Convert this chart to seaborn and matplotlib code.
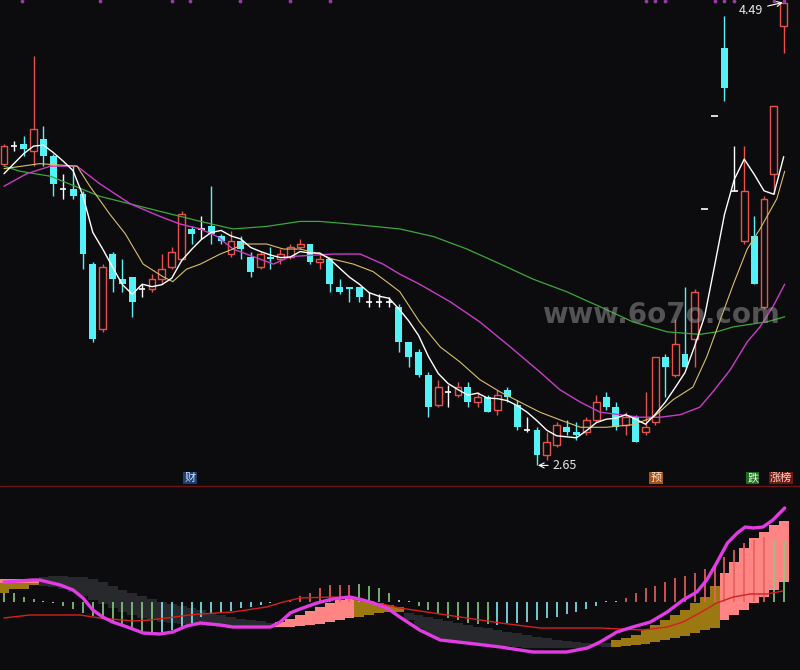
import numpy as np
import pandas as pd
import matplotlib
matplotlib.use("Agg")
import matplotlib.pyplot as plt
from matplotlib.lines import Line2D
import seaborn as sns

BG = '#0c0c0e'
UP = '#e8524c'
DOWN = '#54f2f6'

# K线 (open / close / high / low)
opens = [3.85, 3.92, 3.93, 3.90, 3.95, 3.88, 3.75, 3.75, 3.73, 3.45,
         3.19, 3.49, 3.39, 3.40, 3.35, 3.35, 3.39, 3.44, 3.47, 3.59,
         3.59, 3.60, 3.56, 3.49, 3.54, 3.48, 3.44, 3.48, 3.47, 3.48,
         3.52, 3.53, 3.46, 3.47, 3.36, 3.36, 3.36, 3.30, 3.30, 3.30,
         3.28, 3.14, 3.10, 3.01, 2.89, 2.94, 2.93, 2.96, 2.90, 2.92,
         2.87, 2.95, 2.89, 2.79, 2.79, 2.69, 2.73, 2.80, 2.78, 2.78,
         2.83, 2.92, 2.88, 2.81, 2.84, 2.78, 2.82, 3.08, 3.01, 3.09,
         3.15, 3.67, 4.04, 4.31, 3.74, 3.54, 3.56, 3.28, 3.81, 4.40]
closes = [3.92, 3.92, 3.91, 3.99, 3.88, 3.77, 3.75, 3.72, 3.49, 3.15,
          3.44, 3.39, 3.37, 3.30, 3.35, 3.39, 3.43, 3.50, 3.65, 3.57,
          3.59, 3.57, 3.54, 3.54, 3.51, 3.42, 3.49, 3.47, 3.49, 3.52,
          3.53, 3.46, 3.47, 3.37, 3.34, 3.35, 3.32, 3.30, 3.30, 3.30,
          3.14, 3.08, 3.01, 2.88, 2.96, 2.94, 2.96, 2.90, 2.92, 2.86,
          2.93, 2.92, 2.80, 2.79, 2.69, 2.74, 2.81, 2.78, 2.77, 2.83,
          2.90, 2.88, 2.80, 2.84, 2.74, 2.80, 3.08, 3.04, 3.13, 3.04,
          3.34, 3.67, 4.04, 4.15, 3.74, 3.74, 3.37, 3.71, 4.08, 4.49]
highs = [3.93, 3.94, 3.96, 4.28, 4.00, 3.89, 3.81, 3.84, 3.74, 3.46,
         3.45, 3.50, 3.47, 3.40, 3.37, 3.41, 3.49, 3.52, 3.66, 3.60,
         3.64, 3.76, 3.57, 3.58, 3.56, 3.50, 3.50, 3.52, 3.51, 3.53,
         3.55, 3.53, 3.49, 3.47, 3.39, 3.36, 3.36, 3.34, 3.33, 3.32,
         3.29, 3.14, 3.11, 3.02, 2.99, 2.97, 2.98, 2.98, 2.94, 2.93,
         2.95, 2.96, 2.91, 2.84, 2.80, 2.78, 2.82, 2.83, 2.82, 2.84,
         2.93, 2.94, 2.90, 2.86, 2.85, 2.94, 3.08, 3.09, 3.23, 3.36,
         3.35, 3.67, 4.04, 4.44, 3.92, 3.92, 3.64, 3.72, 4.08, 4.49]
lows = [3.84, 3.90, 3.88, 3.84, 3.84, 3.72, 3.71, 3.71, 3.43, 3.14,
        3.18, 3.34, 3.34, 3.24, 3.32, 3.34, 3.37, 3.43, 3.47, 3.53,
        3.55, 3.53, 3.53, 3.48, 3.47, 3.40, 3.43, 3.43, 3.45, 3.47,
        3.51, 3.45, 3.43, 3.34, 3.33, 3.30, 3.30, 3.28, 3.28, 3.28,
        3.10, 3.04, 3.00, 2.84, 2.88, 2.88, 2.92, 2.88, 2.88, 2.86,
        2.85, 2.90, 2.79, 2.78, 2.65, 2.67, 2.72, 2.77, 2.75, 2.77,
        2.82, 2.87, 2.79, 2.77, 2.74, 2.77, 2.81, 2.92, 3.00, 3.04,
        3.04, 3.67, 4.04, 4.10, 3.74, 3.53, 3.37, 3.27, 3.73, 4.29]

# MA5 warm-up (first 4 bars); rest is rolling mean
ma5_head = [3.81, 3.85, 3.89, 3.92]

ma10_x = [0, 3.6, 7.4, 8.7, 10.7, 12.3, 14.1, 16.1, 17.1, 18.5, 19.9, 21.9, 23.2, 24.2,
          26.6, 28.3, 30.0, 32.0, 33.3, 35.4, 37.4, 39.1, 40.1, 42.1, 44.2, 46.2, 48.2,
          50.3, 52.3, 54.3, 56.3, 58.4, 61.0, 63.7, 65.8, 67.8, 69.8, 71.2, 72.5, 73.9,
          75.3, 76.6, 78.3, 79.1]
ma10_y = [3.83, 3.85, 3.84, 3.76, 3.65, 3.57, 3.45, 3.40, 3.38, 3.43, 3.45, 3.49, 3.51, 3.53,
          3.53, 3.51, 3.51, 3.49, 3.47, 3.45, 3.42, 3.37, 3.34, 3.22, 3.12, 3.06, 2.99,
          2.94, 2.90, 2.86, 2.83, 2.80, 2.80, 2.81, 2.84, 2.91, 2.96, 3.08, 3.22, 3.37,
          3.51, 3.59, 3.71, 3.82]
ma20_x = [0, 2.3, 4.7, 7.4, 9.7, 12.8, 15.8, 17.8, 19.9, 21.6, 23.2, 27.3, 29.0, 33.3,
          36.1, 38.4, 40.1, 42.1, 45.2, 48.2, 51.3, 54.3, 56.3, 58.4, 60.4, 62.4, 64.4,
          66.5, 68.5, 70.5, 71.8, 73.6, 75.3, 76.6, 77.9, 79.1]
ma20_y = [3.76, 3.81, 3.84, 3.84, 3.77, 3.69, 3.64, 3.61, 3.59, 3.56, 3.51, 3.45, 3.48, 3.49,
          3.49, 3.45, 3.41, 3.37, 3.30, 3.22, 3.12, 3.02, 2.95, 2.90, 2.86, 2.85, 2.84,
          2.84, 2.85, 2.88, 2.94, 3.03, 3.14, 3.20, 3.28, 3.37]
ma60_x = [0, 1.6, 4.7, 9.7, 14.8, 19.9, 23.2, 26.6, 30.0, 32.0, 35.0, 40.1, 43.5, 46.9,
          50.3, 53.6, 57.0, 60.4, 63.7, 67.2, 70.5, 72.2, 73.9, 77.3, 79.1]
ma60_y = [3.84, 3.82, 3.80, 3.72, 3.67, 3.62, 3.59, 3.60, 3.62, 3.62, 3.61, 3.59, 3.56, 3.51,
          3.45, 3.39, 3.34, 3.28, 3.22, 3.18, 3.17, 3.18, 3.20, 3.22, 3.24]

# indicator panel
osc_x = [0, 2.9, 3.6, 5.7, 7.0, 8.0, 9.0, 10.0, 11.0, 12.5, 14.1, 15.8, 17.1, 18.5, 19.9,
         21.9, 23.2, 27.0, 28.0, 29.0, 30.0, 31.7, 33.3, 35.0, 36.0, 37.4, 38.8, 40.1,
         42.1, 44.2, 46.9, 50.3, 53.6, 57.0, 59.1, 60.4, 62.1, 63.7, 65.5, 67.2, 68.8,
         70.2, 71.2, 72.2, 73.3, 74.3, 75.1, 75.9, 76.9, 77.9, 79.1]
osc_y = [20, 22, 22, 17, 12, 4, -8, -15, -20, -25, -31, -32, -30, -24, -21,
         -23, -25, -25, -20, -11, -7, -1, 3, 5, 3, -1, -6, -15,
         -28, -38, -41, -45, -50, -50, -46, -40, -30, -25, -20, -10, 2,
         10, 22, 39, 59, 69, 75, 74, 75, 82, 94]
sig_x = [0, 2.6, 7.7, 9.7, 13.1, 14.8, 16.5, 18.8, 19.9, 23.2, 26.6, 28.3, 30.0, 33.3, 35.0,
         36.8, 38.8, 40.1, 43.5, 46.9, 50.3, 54.3, 60.4, 64.7, 67.2, 68.8, 70.5, 72.2,
         73.9, 75.6, 77.3, 78.9]
sig_y = [-16, -13, -13, -16, -19, -18, -16, -13, -12, -10, -5, 0, 4, 5, 4,
         0, -3, -6, -11, -16, -21, -26, -26, -28, -25, -20, -11, -1,
         5, 8, 8, 11]

sticks = [9, 9, 5, 3, 1, -1, -4, -7, -11, -14,
          -17, -21, -24, -26, -30, -31, -31, -28, -26, -21,
          -15, -12, -11, -9, -6, -5, -3, -1, 0, 2,
          6, 9, 14, 17, 17, 17, 18, 16, 14, 9,
          2, 1, -4, -8, -12, -16, -18, -21, -22, -22,
          -23, -21, -21, -20, -18, -16, -15, -12, -10, -7,
          -4, 1, 1, 4, 9, 14, 16, 20, 24, 26,
          29, 33, 37, 45, 52, 59, 62, 65, 62, 60]
stick_kind = list("gggg" "ww" "gggggggggg" "ccccccccccccc" "rrrrrrr" "gggg" "ww"
                  "gggggggg" "ccccccccccc" "ww" "rrrrrrrrrrrrrrr" "gg")

pink_idx = [0, 1, 2, 3, 28, 29, 30, 31, 32, 33, 34, 35, 73, 74, 75, 76, 77, 78, 79]
pink_lo = [19, 19, 19, 19, -25, -25, -24, -23, -22, -20, -18, -16, -18, -13, -8, -1, 5, 12, 20]
pink_hi = [23, 23, 23, 23, -20, -17, -13, -9, -5, -1, 2, 4, 29, 40, 54, 64, 70, 77, 81]

gold_idx = [0, 1, 2, 3, 36, 37, 38, 39, 40, 62, 63, 64, 65, 66, 67, 68, 69, 70, 71, 72]
gold_lo = [9, 13, 13, 17, -15, -13, -11, -10, -10, -45, -44, -43, -42, -40, -38, -36, -34, -31, -28, -26]
gold_hi = [19, 19, 19, 19, 3, 1, -1, -3, -5, -38, -36, -33, -28, -23, -18, -13, -8, -1, 5, 16]

gray_idx = [4, 5, 6, 7, 8, 9, 10, 11, 12, 13, 14, 15, 16, 17, 18, 19, 20, 21, 22, 23, 24, 25, 26, 27,
            41, 42, 43, 44, 45, 46, 47, 48, 49, 50, 51, 52, 53, 54, 55, 56, 57, 58, 59, 60, 61]
gray_lo = [16, 15, 13, 10, 6, 2, -2, -6, -10, -13, -16, -18, -20, -21, -22, -23, -23, -24, -25, -25,
           -26, -26, -26, -26,
           -18, -26, -32, -36, -38, -39, -40, -41, -42, -43, -44, -45, -46, -46, -46, -46, -46,
           -46, -45, -44, -45]
gray_hi = [25, 26, 26, 25, 25, 23, 20, 16, 12, 9, 6, 3, 0, -2, -4, -6, -8, -11, -13, -15,
           -17, -18, -19, -21,
           -11, -13, -15, -17, -19, -21, -23, -25, -26, -28, -30, -31, -33, -35, -36, -38, -39,
           -40, -41, -42, -41]

top_marks = [1.8, 9.7, 17, 18.8, 23.9, 29, 33, 65, 66, 67, 72, 73, 74, 78, 79]

sns.set_theme(style="dark", rc={"axes.facecolor": BG, "figure.facecolor": BG})
plt.rcParams['font.family'] = ['Noto Sans CJK SC', 'DejaVu Sans']
plt.rcParams['axes.unicode_minus'] = False

n = len(closes)
idx = np.arange(n)
ma5 = pd.Series(closes).rolling(5).mean().to_numpy()
ma5[:4] = ma5_head

fig = plt.figure(figsize=(8, 6.7), dpi=100)
ax = fig.add_axes([0, 184 / 670, 1, 486 / 670])
ax2 = fig.add_axes([0, 0, 1, 183 / 670])
for a in (ax, ax2):
    a.set_facecolor(BG)
    a.set_xticks([])
    a.set_yticks([])
    a.grid(False)
    for s in a.spines.values():
        s.set_visible(False)
    a.set_xlim(-0.405, 80.65)
ax.set_ylim(2.566, 4.502)
ax2.set_ylim(-68, 115)

# candles
for i in idx:
    o, c, h, l = opens[i], closes[i], highs[i], lows[i]
    if c > o:
        ax.vlines(i, l, h, color=UP, lw=1, zorder=2)
        ax.bar(i, c - o, bottom=o, width=0.7, facecolor=BG, edgecolor=UP, lw=1, zorder=2)
    elif c < o:
        ax.vlines(i, l, h, color=DOWN, lw=1, zorder=2)
        ax.bar(i, o - c, bottom=c, width=0.7, color=DOWN, lw=0, zorder=2)
    else:
        ax.vlines(i, l, h, color='white', lw=1, zorder=2)
        ax.hlines(o, i - 0.33, i + 0.33, color='white', lw=1.2, zorder=2)

sns.lineplot(x=ma60_x, y=ma60_y, ax=ax, color='#3aa83a', lw=0.9, zorder=3)
sns.lineplot(x=ma20_x, y=ma20_y, ax=ax, color='#c83cc8', lw=1.0, zorder=3)
sns.lineplot(x=ma10_x, y=ma10_y, ax=ax, color='#d8c068', lw=0.8, zorder=3)
sns.lineplot(x=idx, y=ma5, ax=ax, color='white', lw=1.0, zorder=4)

ax.scatter(top_marks, [4.498] * len(top_marks), s=3, color='#9a3aa8', zorder=5, clip_on=False)

ax.annotate('4.49', xy=(78.9, 4.492), xytext=(76.9, 4.462), ha='right', va='center',
            color='#e8e8e8', fontsize=9,
            arrowprops=dict(arrowstyle='->', color='white', lw=0.8, shrinkA=1, shrinkB=0))
ax.annotate('2.65', xy=(54.1, 2.648), xytext=(55.6, 2.648), ha='left', va='center',
            color='#e8e8e8', fontsize=9,
            arrowprops=dict(arrowstyle='->', color='white', lw=0.8, shrinkA=1, shrinkB=0))

ax.text(0.826, 0.352, 'www.6o7o.com', transform=ax.transAxes, ha='center', va='center',
        fontsize=20, fontweight='bold', color='#9a9a9a', alpha=0.5, family='DejaVu Sans', zorder=6)

tags = [('财', 0.2375, '#1d3f6e', '#cfe2ff'), ('预', 0.82, '#a4521c', '#ffe2c8'),
        ('跌', 0.941, '#1d6e1d', '#e4ffe4'), ('涨榜', 0.976, '#6e1a12', '#ffd6cc')]
for label, xpos, fc, tc in tags:
    ax.text(xpos, 0.0165, label, transform=ax.transAxes, ha='center', va='center',
            fontsize=8, color=tc, zorder=6,
            bbox=dict(boxstyle='square,pad=0.1', fc=fc, ec='none'))

fig.add_artist(Line2D([0, 1], [184 / 670, 184 / 670], transform=fig.transFigure,
                      color='#6e1414', lw=1))

# indicator panel
ax2.bar(gray_idx, np.subtract(gray_hi, gray_lo), bottom=gray_lo, width=1.0,
        color='#27292d', lw=0, zorder=1)
ax2.bar(gold_idx, np.subtract(gold_hi, gold_lo), bottom=gold_lo, width=1.0,
        color='#9c7812', lw=0, zorder=1)
ax2.bar(pink_idx, np.subtract(pink_hi, pink_lo), bottom=pink_lo, width=1.0,
        color='#ff8484', lw=0, zorder=1)

kind_color = {'g': '#86cc86', 'c': '#84e8f0', 'r': '#e8625c', 'w': '#d8d8d8'}
ax2.vlines(idx, 0, sticks, colors=[kind_color[k] for k in stick_kind], lw=1.2, zorder=2)

sns.lineplot(x=sig_x, y=sig_y, ax=ax2, color='#d42020', lw=1.0, zorder=3)
sns.lineplot(x=osc_x, y=osc_y, ax=ax2, color='#e43ce4', lw=2.4, zorder=4)

fig.savefig('out.png', dpi=100, facecolor=BG)
